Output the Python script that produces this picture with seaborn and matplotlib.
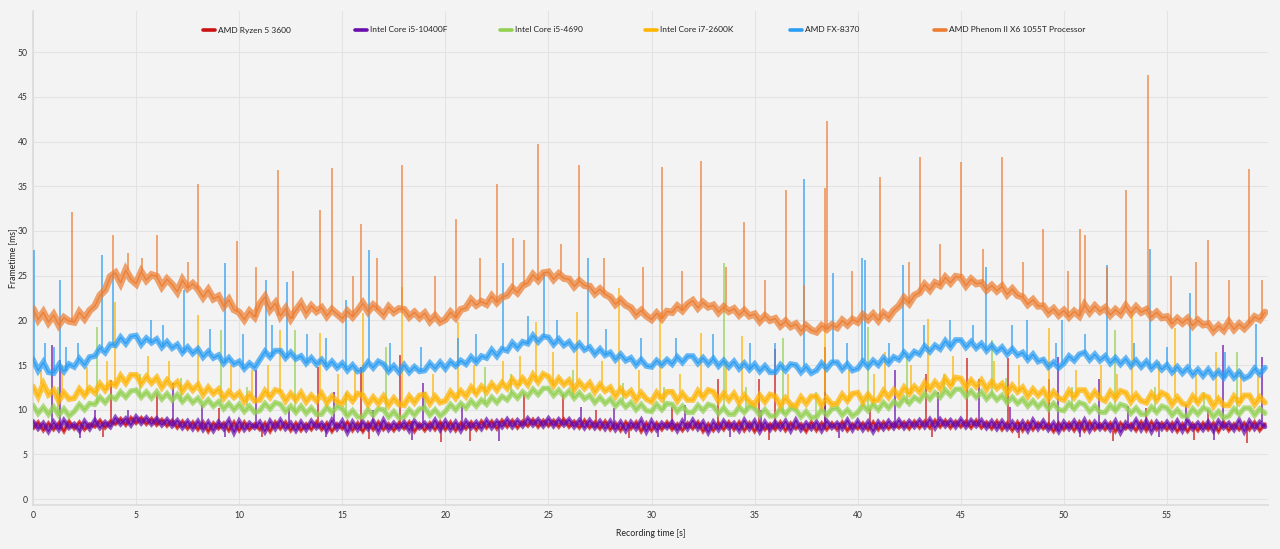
import numpy as np
import pandas as pd
import matplotlib
matplotlib.use("Agg")
import matplotlib.pyplot as plt
from matplotlib.lines import Line2D
import seaborn as sns

step_s = 0.25

ryzen_3600 = [
    7.9, 8.6, 7.7, 8.5, 7.8, 8.5, 7.6, 8.7, 7.9, 8.6, 7.8, 8.4, 8.1, 8.8, 8.0, 8.7, 8.4, 9.0, 8.3, 9.1,
    8.5, 9.1, 8.4, 9.0, 8.3, 8.9, 8.2, 8.8, 8.0, 8.7, 7.9, 8.6, 7.8, 8.6, 7.6, 8.5, 7.9, 8.5, 7.7, 8.6,
    7.7, 8.6, 7.8, 8.4, 7.8, 8.5, 7.6, 8.6, 7.9, 8.6, 7.7, 8.5, 7.7, 8.4, 7.8, 8.6, 7.8, 8.5, 7.6, 8.4,
    7.9, 8.6, 7.7, 8.5, 7.6, 8.5, 7.8, 8.6, 7.8, 8.4, 7.7, 8.5, 7.9, 8.6, 7.6, 8.4, 7.7, 8.5, 7.8, 8.6,
    7.8, 8.6, 7.7, 8.5, 7.9, 8.6, 7.8, 8.7, 8.0, 8.7, 7.9, 8.8, 8.1, 8.8, 8.0, 8.7, 8.2, 8.9, 8.1, 8.8,
    8.2, 8.8, 8.1, 8.9, 8.1, 8.7, 8.0, 8.8, 8.0, 8.6, 7.9, 8.7, 7.8, 8.5, 7.7, 8.6, 7.9, 8.6, 7.6, 8.5,
    7.7, 8.5, 7.8, 8.6, 7.8, 8.4, 7.7, 8.5, 7.9, 8.6, 7.6, 8.4, 7.7, 8.5, 7.8, 8.6, 7.8, 8.6, 7.7, 8.5,
    7.6, 8.5, 7.8, 8.4, 7.8, 8.6, 7.7, 8.5, 7.9, 8.4, 7.6, 8.6, 7.7, 8.5, 7.8, 8.5, 7.8, 8.6, 7.7, 8.4,
    7.9, 8.5, 7.8, 8.6, 7.8, 8.6, 7.9, 8.5, 8.0, 8.6, 7.9, 8.7, 8.0, 8.7, 8.0, 8.8, 8.1, 8.8, 8.0, 8.7,
    8.1, 8.7, 8.0, 8.8, 8.0, 8.6, 7.9, 8.7, 7.8, 8.5, 7.7, 8.6, 7.7, 8.6, 7.8, 8.5, 7.9, 8.4, 7.6, 8.5,
    7.8, 8.5, 7.7, 8.6, 7.7, 8.6, 7.8, 8.4, 7.8, 8.5, 7.6, 8.5, 7.9, 8.4, 7.7, 8.6, 7.7, 8.6, 7.8, 8.5,
    7.8, 8.5, 7.6, 8.4, 7.6, 8.4, 7.7, 8.5, 7.8, 8.5, 7.6, 8.6, 7.7, 8.4, 7.8, 8.5, 7.8, 8.6, 7.7, 8.4,
]
core_i5_10400f = [
    8.7, 7.9, 8.5, 7.6, 8.6, 7.8, 8.8, 8.0, 8.4, 7.7, 8.7, 7.9, 8.8, 8.0, 8.6, 8.1, 9.1, 8.4, 9.0, 8.3,
    9.2, 8.5, 9.1, 8.4, 9.0, 8.3, 8.9, 8.2, 8.8, 8.0, 8.7, 7.9, 8.7, 7.8, 8.6, 7.7, 8.6, 7.9, 8.8, 7.5,
    8.7, 7.8, 8.5, 8.0, 8.6, 7.6, 8.7, 7.9, 8.8, 7.9, 8.5, 7.7, 8.6, 7.8, 8.7, 8.0, 8.5, 7.7, 8.8, 7.9,
    8.7, 7.5, 8.6, 7.8, 8.6, 7.9, 8.7, 7.6, 8.8, 7.8, 8.5, 7.9, 8.6, 7.7, 8.7, 8.0, 8.5, 7.9, 8.8, 7.8,
    8.7, 7.8, 8.6, 7.7, 8.7, 8.0, 8.6, 7.9, 8.8, 8.0, 8.7, 8.1, 8.9, 8.1, 8.8, 8.2, 9.0, 8.3, 8.9, 8.2,
    9.0, 8.2, 8.9, 8.3, 8.9, 8.1, 8.8, 8.0, 8.8, 8.0, 8.7, 7.9, 8.7, 7.8, 8.6, 7.7, 8.6, 7.9, 8.8, 7.6,
    8.7, 7.8, 8.5, 8.0, 8.6, 7.7, 8.7, 7.9, 8.8, 7.9, 8.6, 7.5, 8.6, 7.8, 8.7, 8.0, 8.5, 7.7, 8.8, 7.9,
    8.7, 7.6, 8.6, 7.8, 8.6, 7.9, 8.7, 7.7, 8.8, 7.8, 8.5, 7.9, 8.6, 7.7, 8.7, 8.0, 8.5, 7.9, 8.8, 7.8,
    8.7, 7.8, 8.6, 7.6, 8.6, 7.9, 8.7, 8.0, 8.8, 8.0, 8.7, 8.1, 8.8, 8.1, 8.9, 8.0, 8.9, 8.2, 8.8, 8.1,
    8.9, 8.1, 8.8, 8.2, 8.8, 8.0, 8.7, 7.9, 8.7, 7.9, 8.6, 7.8, 8.6, 7.7, 8.8, 7.9, 8.7, 7.8, 8.5, 7.6,
    8.6, 7.9, 8.7, 7.8, 8.8, 7.7, 8.6, 7.9, 8.6, 7.8, 8.7, 7.5, 8.5, 7.9, 8.8, 7.8, 8.7, 7.6, 8.6, 7.9,
    8.6, 7.8, 8.7, 7.7, 8.8, 7.9, 8.5, 7.8, 8.6, 7.7, 8.7, 8.0, 8.5, 7.8, 8.8, 7.6, 8.7, 7.9, 8.6, 8.1,
]
core_i5_4690 = [
    10.5, 9.6, 10.3, 9.5, 10.3, 9.4, 10.1, 9.3, 9.8, 10.6, 10.0, 10.7, 10.6, 11.4, 10.8, 11.5, 11.2, 12.0, 11.4, 12.1,
    12.2, 11.4, 12.0, 11.3, 12.0, 11.2, 11.8, 11.1, 11.7, 10.9, 11.5, 10.8, 11.3, 10.5, 11.1, 10.4, 10.9, 10.1, 10.7, 10.0,
    10.6, 9.8, 10.4, 9.7, 9.9, 10.7, 10.1, 10.8, 10.6, 9.8, 10.4, 9.7, 10.4, 9.6, 10.2, 9.5, 9.5, 10.3, 9.7, 10.4,
    10.1, 9.3, 9.9, 9.2, 9.2, 10.0, 9.4, 10.1, 10.0, 9.2, 9.8, 9.1, 9.2, 10.0, 9.4, 10.1, 10.2, 9.4, 10.0, 9.3,
    9.8, 10.6, 10.0, 10.7, 10.2, 11.0, 10.4, 11.1, 10.6, 11.4, 10.8, 11.5, 11.1, 11.9, 11.3, 12.0, 11.5, 12.3, 11.7, 12.4,
    12.4, 11.6, 12.2, 11.5, 12.1, 11.3, 11.9, 11.2, 11.6, 10.8, 11.4, 10.7, 11.2, 10.4, 11.0, 10.3, 10.8, 10.0, 10.6, 9.9,
    9.8, 10.6, 10.0, 10.7, 10.6, 9.8, 10.4, 9.7, 9.7, 10.5, 9.9, 10.6, 10.4, 9.6, 10.2, 9.5, 9.5, 10.3, 9.7, 10.4,
    10.2, 9.4, 10.0, 9.3, 9.3, 10.1, 9.5, 10.2, 10.0, 9.2, 9.8, 9.1, 9.2, 10.0, 9.4, 10.1, 10.2, 9.4, 10.0, 9.3,
    9.7, 10.5, 9.9, 10.6, 10.0, 10.8, 10.2, 10.9, 10.5, 11.3, 10.7, 11.4, 11.0, 11.8, 11.2, 11.9, 11.4, 12.2, 11.6, 12.3,
    12.3, 11.5, 12.1, 11.4, 12.0, 11.2, 11.8, 11.1, 11.6, 10.8, 11.4, 10.7, 11.2, 10.4, 11.0, 10.3, 10.9, 10.1, 10.7, 10.0,
    9.9, 10.7, 10.1, 10.8, 10.6, 9.8, 10.4, 9.7, 9.7, 10.5, 9.9, 10.6, 10.4, 9.6, 10.2, 9.5, 9.5, 10.3, 9.7, 10.4,
    10.2, 9.4, 10.0, 9.3, 9.3, 10.1, 9.5, 10.2, 10.0, 9.2, 9.8, 9.1, 9.3, 10.1, 9.5, 10.2, 10.2, 9.4, 10.1, 9.6,
]
core_i7_2600k = [
    12.6, 11.5, 12.9, 11.7, 12.2, 11.0, 11.9, 11.2, 11.3, 12.3, 11.6, 12.4, 11.9, 12.9, 12.2, 13.0, 12.7, 13.8, 13.0, 13.9,
    13.9, 12.9, 13.7, 13.0, 13.6, 12.5, 13.3, 12.6, 13.1, 12.1, 12.9, 12.2, 12.8, 11.7, 12.5, 11.8, 12.3, 11.3, 12.0, 11.4,
    11.9, 10.9, 11.7, 11.0, 11.1, 12.1, 11.4, 12.2, 12.0, 11.0, 11.8, 11.1, 11.9, 10.9, 11.6, 11.0, 11.8, 10.8, 11.5, 10.9,
    10.7, 11.7, 11.0, 11.8, 11.6, 10.6, 11.4, 10.7, 11.5, 10.5, 11.3, 10.6, 10.5, 11.5, 10.8, 11.6, 11.7, 10.7, 11.5, 10.8,
    11.0, 12.0, 11.3, 12.1, 11.5, 12.5, 11.8, 12.6, 12.0, 12.9, 12.2, 13.0, 12.4, 13.4, 12.7, 13.5, 12.8, 13.9, 13.1, 14.0,
    13.7, 12.7, 13.5, 12.8, 13.3, 12.3, 13.1, 12.4, 13.0, 12.0, 12.8, 12.1, 12.5, 11.5, 12.3, 11.6, 12.1, 11.1, 11.9, 11.2,
    10.9, 11.9, 11.2, 12.0, 12.0, 11.0, 11.8, 11.1, 11.1, 12.1, 11.4, 12.2, 12.0, 11.0, 11.8, 11.1, 11.8, 10.8, 11.6, 10.9,
    10.6, 11.6, 10.9, 11.7, 11.5, 10.5, 11.3, 10.6, 10.4, 11.4, 10.7, 11.5, 11.5, 10.5, 11.3, 10.6, 10.7, 11.7, 11.0, 11.8,
    11.9, 10.9, 11.7, 11.0, 11.1, 12.1, 11.4, 12.2, 11.5, 12.5, 11.8, 12.6, 12.0, 13.0, 12.3, 13.1, 12.4, 13.5, 12.7, 13.6,
    13.5, 12.5, 13.3, 12.6, 13.3, 12.3, 13.1, 12.4, 12.9, 11.9, 12.7, 12.0, 12.5, 11.5, 12.3, 11.6, 12.2, 11.2, 12.0, 11.3,
    11.1, 12.1, 11.4, 12.2, 12.2, 11.2, 12.0, 11.3, 11.0, 12.0, 11.3, 12.1, 11.9, 10.9, 11.7, 11.0, 10.8, 11.8, 11.1, 11.9,
    11.6, 10.6, 11.4, 10.7, 10.5, 11.5, 10.8, 11.6, 11.4, 10.4, 11.2, 10.5, 10.5, 11.5, 10.8, 11.6, 11.6, 10.6, 11.4, 10.8,
]
fx_8370 = [
    15.6, 14.4, 15.3, 14.2, 14.1, 15.0, 14.3, 15.1, 14.8, 15.7, 15.0, 15.9, 16.0, 16.9, 16.4, 17.3, 17.2, 18.1, 17.4, 18.2,
    18.3, 17.3, 18.0, 17.5, 17.9, 17.0, 17.6, 16.9, 17.3, 16.4, 17.0, 16.3, 16.8, 15.9, 16.5, 15.8, 16.1, 15.2, 15.8, 15.1,
    15.4, 14.6, 15.2, 14.7, 15.6, 16.5, 15.9, 16.6, 16.6, 15.8, 16.4, 15.7, 16.0, 15.2, 15.8, 15.1, 15.6, 14.8, 15.4, 14.7,
    15.2, 14.4, 15.0, 14.3, 14.5, 15.3, 14.7, 15.4, 15.1, 14.3, 14.9, 14.2, 15.0, 14.2, 14.8, 14.3, 14.4, 15.2, 14.6, 15.3,
    14.6, 15.4, 14.9, 15.5, 15.1, 15.9, 15.3, 16.0, 15.8, 16.7, 16.0, 16.8, 16.6, 17.5, 16.9, 17.6, 17.4, 18.3, 17.6, 18.2,
    18.1, 17.3, 17.9, 17.2, 17.6, 16.8, 17.4, 16.7, 17.0, 16.2, 16.8, 16.1, 16.4, 15.6, 16.2, 15.5, 15.8, 15.0, 15.6, 14.9,
    14.8, 15.5, 15.0, 15.6, 15.1, 15.9, 15.3, 16.0, 16.0, 15.2, 15.8, 15.1, 15.7, 14.9, 15.5, 14.8, 15.4, 14.6, 15.2, 14.5,
    15.1, 14.3, 14.9, 14.2, 14.2, 15.0, 14.4, 15.1, 15.0, 14.2, 14.8, 14.1, 14.4, 15.2, 14.6, 15.3, 15.3, 14.5, 15.1, 14.4,
    14.6, 15.4, 14.8, 15.5, 15.0, 15.8, 15.2, 15.9, 15.6, 16.4, 15.8, 16.5, 16.2, 17.1, 16.5, 17.2, 16.8, 17.7, 17.0, 17.8,
    17.8, 17.0, 17.6, 16.9, 17.4, 16.6, 17.2, 16.5, 17.0, 16.2, 16.8, 16.1, 16.4, 15.6, 16.2, 15.4, 15.6, 14.8, 15.3, 14.7,
    15.2, 16.0, 15.5, 16.2, 16.4, 15.6, 16.2, 15.5, 16.0, 15.2, 15.8, 15.1, 15.7, 14.9, 15.5, 14.8, 15.4, 14.6, 15.2, 14.5,
    15.0, 14.2, 14.8, 14.1, 14.7, 13.9, 14.5, 13.8, 14.5, 13.7, 14.3, 13.6, 14.4, 13.6, 14.2, 13.5, 13.8, 14.6, 14.0, 14.7,
]
phenom_1055t = [
    21.3, 20.1, 20.9, 19.8, 20.6, 19.5, 20.3, 19.9, 19.8, 20.9, 20.2, 21.1, 21.6, 22.8, 23.4, 24.9, 25.3, 24.2, 25.6, 24.6,
    24.1, 25.4, 24.5, 25.1, 24.9, 23.8, 24.6, 24.0, 23.2, 24.5, 23.6, 24.1, 23.5, 22.6, 23.4, 22.4, 22.7, 21.6, 22.3, 21.2,
    20.9, 20.1, 21.0, 20.4, 21.8, 22.6, 21.2, 21.9, 20.5, 21.3, 20.2, 21.1, 21.9, 20.8, 21.6, 21.0, 21.4, 20.5, 21.2, 20.7,
    20.2, 21.0, 20.4, 21.1, 21.9, 21.0, 21.7, 21.2, 20.6, 21.5, 20.9, 21.3, 21.2, 20.4, 20.9, 20.3, 20.8, 19.9, 20.5, 19.8,
    20.1, 20.9, 20.3, 21.2, 21.4, 22.3, 21.7, 22.1, 21.8, 22.7, 22.0, 22.6, 22.8, 23.6, 23.1, 23.9, 24.2, 25.1, 24.5, 25.3,
    25.4, 24.6, 25.2, 24.7, 24.6, 23.8, 24.4, 23.9, 23.8, 23.0, 23.5, 22.9, 22.6, 21.8, 22.3, 21.7, 21.4, 20.6, 21.1, 20.5,
    20.1, 20.8, 20.2, 21.0, 20.9, 21.6, 21.1, 21.8, 22.2, 21.4, 22.0, 21.5, 21.7, 20.9, 21.5, 21.0, 21.3, 20.6, 21.1, 20.5,
    20.7, 19.9, 20.5, 20.0, 20.2, 19.4, 19.9, 19.3, 19.6, 18.8, 19.4, 18.9, 18.7, 19.4, 19.0, 19.5, 19.2, 20.0, 19.5, 20.1,
    19.8, 20.6, 20.1, 20.7, 20.0, 20.8, 20.3, 21.1, 21.6, 22.5, 21.9, 22.8, 23.1, 24.0, 23.4, 24.2, 23.9, 24.8, 24.2, 24.9,
    24.8, 23.9, 24.6, 24.1, 24.2, 23.4, 23.9, 23.3, 23.8, 22.9, 23.5, 22.8, 22.6, 21.8, 22.3, 21.6, 21.6, 20.8, 21.3, 20.6,
    21.1, 20.4, 21.0, 20.5, 21.7, 20.9, 21.6, 21.0, 21.4, 20.6, 21.2, 20.7, 21.6, 20.8, 21.5, 20.9, 21.2, 20.4, 20.9, 20.3,
    20.4, 19.6, 20.2, 19.7, 20.2, 19.4, 20.0, 19.5, 19.6, 18.8, 19.4, 18.9, 19.8, 19.0, 19.6, 19.1, 19.7, 20.4, 20.1, 20.9,
]

# single-frame spikes and dips: time [s] and frametime [ms]
ryzen_spike_t = [3.4, 3.8, 6.0, 9.0, 11.1, 13.8, 15.9, 16.3, 17.8, 19.8, 21.2, 23.8, 25.7, 27.3, 28.9, 31.0, 33.2,
                 35.2, 35.7, 36.0, 38.4, 40.6, 43.3, 43.6, 45.3, 47.3, 47.8, 49.3, 52.4, 54.0, 56.3, 57.0, 58.9]
ryzen_spike_v = [6.9, 13.3, 11.8, 10.2, 7.0, 14.8, 14.8, 6.7, 16.1, 6.4, 6.5, 11.8, 11.8, 10.0, 6.8, 10.3, 13.4,
                 13.4, 6.6, 16.8, 17.0, 10.1, 14.0, 7.0, 15.8, 15.8, 6.8, 13.4, 6.5, 10.2, 6.6, 10.0, 6.3]
i5_10400f_spike_t = [0.9, 1.3, 2.3, 3.0, 4.6, 6.8, 8.2, 9.3, 10.8, 12.4, 14.2, 14.6, 16.5, 18.4, 18.9, 20.8, 22.6,
                     26.6, 28.2, 30.3, 31.6, 33.8, 35.3, 38.4, 39.1, 41.8, 43.9, 45.9, 47.4, 49.7, 50.8, 51.7,
                     53.1, 54.6, 55.9, 57.3, 57.7, 59.6]
i5_10400f_spike_v = [17.2, 15.6, 6.8, 10.0, 10.0, 13.0, 10.5, 6.9, 14.4, 10.2, 7.0, 12.0, 10.0, 6.6, 13.0, 10.4, 6.5,
                     10.3, 10.2, 7.0, 10.5, 6.9, 10.0, 12.0, 6.8, 14.4, 12.0, 13.4, 10.3, 15.9, 7.0, 13.4,
                     10.4, 6.9, 10.6, 6.6, 17.2, 15.9]
i5_4690_spike_t = [1.2, 3.1, 5.2, 7.2, 9.1, 10.4, 12.7, 15.2, 17.1, 19.0, 21.9, 23.2, 26.2, 28.6, 30.6, 33.5, 34.6,
                   36.4, 38.0, 40.5, 42.4, 44.2, 46.5, 47.2, 50.4, 52.5, 54.4, 56.8, 58.4]
i5_4690_spike_v = [12.5, 19.3, 14.0, 13.5, 18.9, 12.5, 18.9, 12.0, 17.0, 12.0, 14.8, 14.0, 14.5, 13.0, 12.5, 26.4, 12.5,
                   18.0, 12.0, 19.3, 16.0, 14.0, 17.8, 13.5, 12.5, 18.9, 12.5, 12.0, 16.5]
i7_2600k_spike_t = [0.4, 1.4, 2.6, 3.6, 4.0, 5.6, 6.6, 8.0, 9.6, 10.6, 11.4, 12.0, 13.9, 14.8, 15.6, 16.0, 17.9, 19.4,
                    20.6, 21.4, 22.8, 23.6, 24.4, 25.2, 26.4, 27.6, 28.4, 29.4, 30.4, 31.4, 32.4, 33.6, 34.4, 36.6,
                    38.4, 39.6, 40.8, 41.3, 42.6, 43.4, 44.6, 46.6, 47.8, 49.3, 50.6, 51.8, 52.6, 53.3, 54.6, 55.4,
                    56.4, 57.4, 58.6, 59.4]
i7_2600k_spike_v = [14.5, 15.0, 14.8, 15.5, 22.0, 16.0, 15.5, 20.6, 15.0, 14.5, 15.0, 18.9, 18.6, 14.0, 14.5, 20.8, 23.7, 14.0,
                    19.8, 15.0, 15.5, 16.0, 19.8, 16.5, 20.9, 15.5, 23.6, 14.5, 20.8, 14.0, 18.6, 15.5, 18.2, 14.0,
                    19.0, 14.5, 14.0, 16.5, 15.0, 20.2, 16.0, 15.5, 15.0, 19.1, 14.5, 15.0, 14.0, 20.9, 15.5, 19.1,
                    14.0, 16.5, 14.5, 14.0]
fx_spike_t = [0.05, 0.6, 1.0, 1.3, 1.6, 2.2, 3.35, 3.9, 5.7, 6.3, 7.3, 8.6, 9.3, 10.2, 11.3, 11.6, 12.3, 13.3, 14.2,
              15.2, 16.3, 17.3, 18.8, 20.6, 21.5, 22.8, 24.0, 24.8, 25.4, 26.9, 27.8, 29.5, 31.2, 33.0, 34.8, 36.0,
              37.4, 38.8, 39.5, 40.2, 40.35, 41.5, 42.2, 43.2, 44.5, 45.6, 46.2, 47.5, 48.2, 49.6, 49.9, 51.0,
              52.1, 53.4, 54.2, 55.0, 56.1, 57.8, 59.3]
fx_spike_v = [27.9, 17.5, 17.0, 24.5, 17.0, 17.5, 27.3, 25.3, 20.0, 19.5, 23.4, 19.0, 26.4, 18.5, 24.5, 19.5, 24.3, 18.5, 18.0,
              22.3, 27.9, 17.5, 17.0, 18.0, 18.5, 26.4, 20.5, 25.3, 20.0, 27.0, 19.0, 18.0, 18.0, 18.5, 17.5, 17.5,
              35.8, 25.3, 17.5, 27.0, 26.7, 17.5, 26.2, 19.5, 20.0, 19.5, 26.0, 19.5, 20.0, 17.5, 20.0, 18.5,
              26.2, 17.5, 28.0, 17.0, 23.1, 16.5, 19.6]
phenom_spike_t = [1.9, 3.9, 4.6, 5.3, 6.0, 7.5, 8.0, 9.9, 10.8, 11.9, 12.6, 13.9, 14.5, 15.5, 15.9, 16.7, 17.9, 19.5,
                  20.5, 21.7, 22.5, 23.3, 23.8, 24.5, 25.6, 26.5, 27.7, 29.6, 30.5, 31.5, 32.4, 33.6, 34.5, 35.5,
                  36.5, 37.4, 38.4, 38.5, 39.7, 41.1, 42.5, 43.0, 44.0, 45.0, 46.1, 47.0, 48.0, 49.0, 50.2, 50.8,
                  51.0, 52.1, 53.0, 54.1, 55.2, 56.4, 57.0, 58.0, 59.0, 59.6]
phenom_spike_v = [32.1, 29.5, 27.5, 27.0, 29.6, 26.5, 35.3, 28.9, 26.0, 36.8, 25.5, 32.3, 37.0, 25.0, 30.8, 27.0, 37.4, 25.0,
                  31.3, 27.0, 35.3, 29.2, 29.0, 39.7, 28.5, 37.4, 27.0, 26.0, 37.1, 25.5, 37.8, 26.0, 31.0, 24.5,
                  34.6, 24.0, 34.8, 42.3, 25.5, 36.0, 26.5, 38.3, 28.5, 37.7, 28.0, 38.3, 26.5, 30.2, 25.5, 30.2,
                  29.5, 26.0, 34.6, 47.4, 25.0, 26.5, 29.0, 24.5, 36.9, 24.5]

cpu_names = ["AMD Ryzen 5 3600", "Intel Core i5-10400F", "Intel Core i5-4690",
             "Intel Core i7-2600K", "AMD FX-8370", "AMD Phenom II X6 1055T Processor"]
series = [ryzen_3600, core_i5_10400f, core_i5_4690, core_i7_2600k, fx_8370, phenom_1055t]
spikes = [(ryzen_spike_t, ryzen_spike_v), (i5_10400f_spike_t, i5_10400f_spike_v),
          (i5_4690_spike_t, i5_4690_spike_v), (i7_2600k_spike_t, i7_2600k_spike_v),
          (fx_spike_t, fx_spike_v), (phenom_spike_t, phenom_spike_v)]
colors = ["#cc1111", "#6a0dad", "#92d050", "#ffb400", "#2a9df4", "#ed7d31"]
# width (pt) of the frame-to-frame jitter band drawn under each line
jitter_width = [2.8, 3.5, 3.8, 4.2, 4.2, 5.2]

bg = "#f3f3f3"
sns.set_theme(style="whitegrid", rc={
    "axes.facecolor": bg,
    "figure.facecolor": bg,
    "grid.color": "#e3e3e3",
    "grid.linewidth": 0.8,
    "axes.edgecolor": "#dcdcdc",
})
plt.rcParams["font.family"] = ["Lato", "DejaVu Sans"]

# long-form table for seaborn
frames = []
for name, vals in zip(cpu_names, series):
    frames.append(pd.DataFrame({
        "time": np.arange(len(vals)) * step_s,
        "frametime": vals,
        "cpu": name,
    }))
df = pd.concat(frames, ignore_index=True)

fig = plt.figure(figsize=(12.8, 5.49), dpi=100)
ax = fig.add_axes([33 / 1280, 44 / 549, 1235 / 1280, 494 / 549])

for i, (name, color) in enumerate(zip(cpu_names, colors)):
    sub = df[df["cpu"] == name]
    # jitter band, then the line itself
    sns.lineplot(data=sub, x="time", y="frametime", color=color, lw=jitter_width[i],
                 estimator=None, ax=ax, zorder=3 + i, alpha=0.7, solid_joinstyle="miter")
    sns.lineplot(data=sub, x="time", y="frametime", color=color, lw=1.0,
                 estimator=None, ax=ax, zorder=3 + i, alpha=0.9)
    st, sv = spikes[i]
    vals = series[i]
    base = [vals[min(int(round(t / step_s)), len(vals) - 1)] for t in st]
    ax.vlines(st, base, sv, color=color, lw=1.1, zorder=3 + i, alpha=0.85)

ax.set_xlim(0, 59.9)
ax.set_ylim(-0.65, 54.6)
ax.set_xticks(np.arange(0, 60, 5))
ax.set_yticks(np.arange(0, 55, 5))
ax.tick_params(length=0, labelsize=6.2, colors="#333333", pad=4)
for side in ["top", "right"]:
    ax.spines[side].set_visible(False)
ax.set_xlabel("Recording time [s]", fontsize=6.3, color="#222222", labelpad=7)
ax.set_ylabel("Frametime [ms]", fontsize=6.3, color="#222222", labelpad=0)

legend_x = [203, 355, 500, 645, 790, 934]
for name, color, x in zip(cpu_names, colors, legend_x):
    fig.legend(handles=[Line2D([], [], color=color, lw=2.6)], labels=[name],
               loc="center left", bbox_to_anchor=(x / 1280, 1 - 30 / 549),
               frameon=False, borderpad=0, borderaxespad=0, handlelength=1.4,
               handletextpad=0.35, fontsize=6.0, labelcolor="#222222")

fig.savefig("out.png", dpi=100, facecolor=bg)
